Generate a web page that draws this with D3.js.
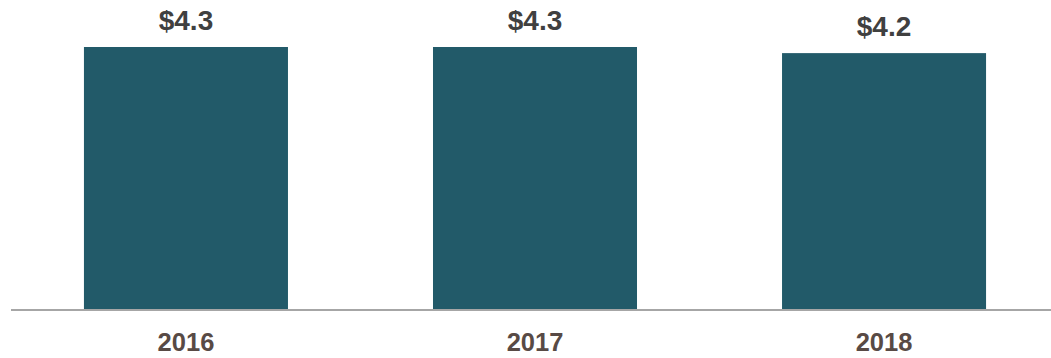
<!DOCTYPE html>
<html>
<head>
<meta charset="utf-8">
<script src="https://cdn.jsdelivr.net/npm/d3@7"></script>
<style>
  html, body { margin: 0; padding: 0; background: #ffffff; }
  svg { display: block; }
</style>
</head>
<body>
<div id="chart"></div>
<script>
// Annual values (in $ billions)
const years = ["2016", "2017", "2018"];
const values = [4.3, 4.3, 4.2];
const valueLabels = ["$4.3", "$4.3", "$4.2"];

const width = 1051, height = 358;
const baseY = 310, topY = 47;

const svg = d3.select("#chart").append("svg")
  .attr("width", width)
  .attr("height", height);

const x = d3.scaleBand()
  .domain(years)
  .range([11, 1059])
  .paddingInner(0.4155)
  .paddingOuter(0.209);

const y = d3.scaleLinear()
  .domain([0, 4.3])
  .range([baseY, topY]);

// bars
svg.selectAll("rect.bar")
  .data(years)
  .join("rect")
  .attr("class", "bar")
  .attr("x", d => x(d))
  .attr("width", x.bandwidth())
  .attr("y", (d, i) => y(values[i]))
  .attr("height", (d, i) => y(0) - y(values[i]))
  .attr("fill", "#225a69");

// baseline axis
const axis = d3.axisBottom(x).tickSize(0);
const gAxis = svg.append("g")
  .attr("transform", `translate(0,${baseY})`)
  .call(axis);
gAxis.select(".domain").remove();
gAxis.append("line")
  .attr("x1", 11).attr("x2", width)
  .attr("y1", 0).attr("y2", 0)
  .attr("stroke", "#a6a6a6")
  .attr("stroke-width", 2);
gAxis.selectAll(".tick text")
  .attr("y", 0)
  .attr("dy", 40.5)
  .attr("font-family", "'Liberation Sans', Arial, sans-serif")
  .attr("font-size", 25.5)
  .attr("font-weight", "bold")
  .attr("fill", "#584a45");

// value labels
svg.selectAll("text.val")
  .data(years)
  .join("text")
  .attr("class", "val")
  .attr("x", d => x(d) + x.bandwidth() / 2)
  .attr("y", (d, i) => y(values[i]) - 17.5)
  .attr("text-anchor", "middle")
  .attr("font-family", "'Liberation Sans', Arial, sans-serif")
  .attr("font-size", 28)
  .attr("font-weight", "bold")
  .attr("fill", "#404040")
  .text((d, i) => valueLabels[i]);
</script>
</body>
</html>
